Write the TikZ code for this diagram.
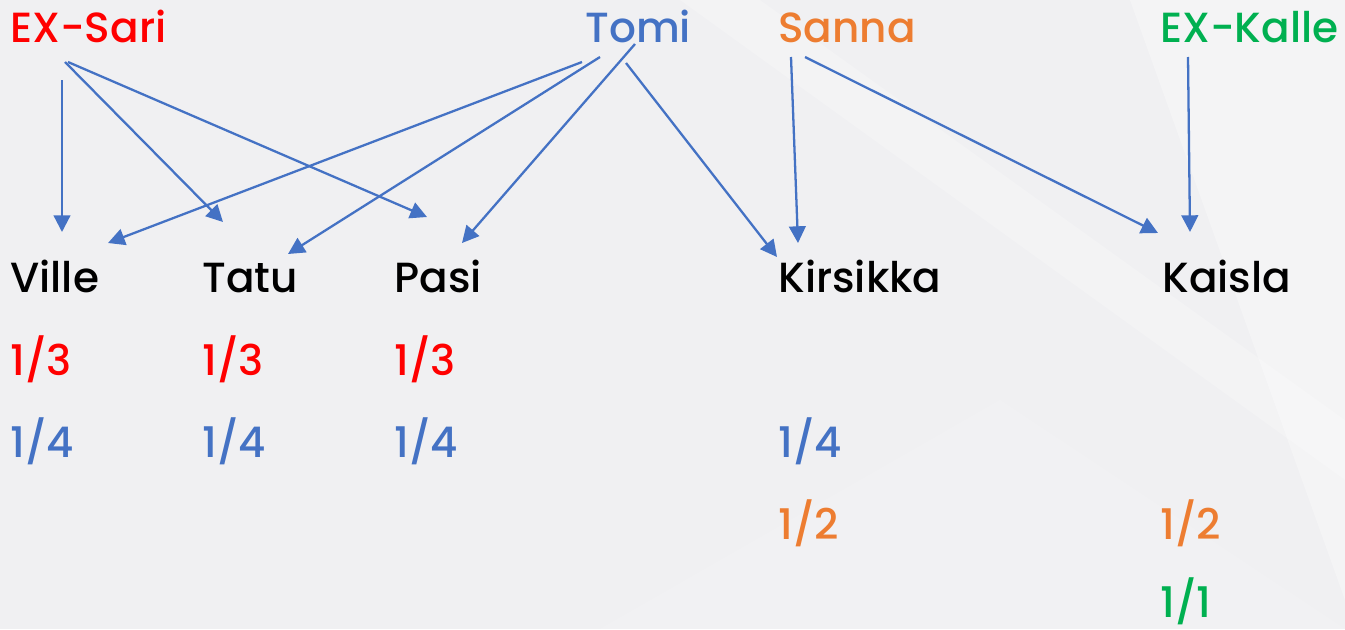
\documentclass[tikz,border=0pt]{standalone}
\usepackage{fontspec}
\setmainfont{Poppins Medium}
\usetikzlibrary{arrows.meta}

\definecolor{sariRed}{HTML}{FF0000}
\definecolor{tomiBlue}{HTML}{4472C4}
\definecolor{sannaOrange}{HTML}{ED7D31}
\definecolor{kalleGreen}{HTML}{00B050}
\definecolor{bgGray}{HTML}{F0F0F2}

\begin{document}
\begin{tikzpicture}[x=0.02cm,y=-0.02cm,
        person/.style={anchor=base west,inner sep=0pt,font=\fontsize{24}{28}\selectfont},
        arr/.style={draw=tomiBlue,line width=1.3pt,-{Triangle[length=9.5pt,width=9.5pt]}}]

    % background
    \fill[bgGray] (0,0) rectangle (1345,629);
    \useasboundingbox (0,0) rectangle (1345,629);
    \fill[white,opacity=0.3] (1130,0) -- (1345,0) -- (1345,600) -- cycle;
    \fill[white,opacity=0.2] (680,0) -- (760,0) -- (1345,420) -- (1345,480) -- cycle;
    \fill[white,opacity=0.1] (600,629) -- (1000,400) -- (1345,629) -- cycle;

    % parents
    \node[person, text=sariRed] (sari) at (10,42) {EX-Sari};
    \node[person, text=tomiBlue] (tomi) at (585,42) {Tomi};
    \node[person, text=sannaOrange] (sanna) at (778,42) {Sanna};
    \node[person, text=kalleGreen] (kalle) at (1160,42) {EX-Kalle};

    % children
    \node[person] (ville) at (10,292) {Ville};
    \node[person] (tatu) at (202,292) {Tatu};
    \node[person] (pasi) at (394,292) {Pasi};
    \node[person] (kirsikka) at (778,292) {Kirsikka};
    \node[person] (kaisla) at (1162,292) {Kaisla};

    % shares
    \node[person, text=sariRed] (villeS) at (10,375) {1/3};
    \node[person, text=sariRed] (tatuS) at (202,375) {1/3};
    \node[person, text=sariRed] (pasiS) at (394,375) {1/3};
    \node[person, text=tomiBlue] (villeT) at (10,457) {1/4};
    \node[person, text=tomiBlue] (tatuT) at (202,457) {1/4};
    \node[person, text=tomiBlue] (pasiT) at (394,457) {1/4};
    \node[person, text=tomiBlue] (kirsikkaT) at (778,457) {1/4};
    \node[person, text=sannaOrange] (kirsikkaS) at (778,539) {1/2};
    \node[person, text=sannaOrange] (kaislaS) at (1160,539) {1/2};
    \node[person, text=kalleGreen] (kaislaK) at (1160,617) {1/1};

    \path[every edge/.style={arr}]
    ([shift={(52,38)}]sari.base west) edge ([shift={(52,-60)}]ville.base west)
    ([shift={(55,20)}]sari.base west) edge ([shift={(21,-70)}]tatu.base west)
    ([shift={(58,20)}]sari.base west) edge ([shift={(33,-75)}]pasi.base west)
    ([shift={(-3,20)}]tomi.base west) edge ([shift={(98,-49)}]ville.base west)
    ([shift={(15,15)}]tomi.base west) edge ([shift={(86,-38)}]tatu.base west)
    ([shift={(50,2)}]tomi.base west) edge ([shift={(68,-49)}]pasi.base west)
    ([shift={(41,21)}]tomi.base west) edge ([shift={(-1,-35)}]kirsikka.base west)
    ([shift={(13,15)}]sanna.base west) edge ([shift={(20,-49)}]kirsikka.base west)
    ([shift={(27,15)}]sanna.base west) edge ([shift={(-4,-59)}]kaisla.base west)
    ([shift={(28,15)}]kalle.base west) edge ([shift={(28,-60)}]kaisla.base west);

\end{tikzpicture}
\end{document}
